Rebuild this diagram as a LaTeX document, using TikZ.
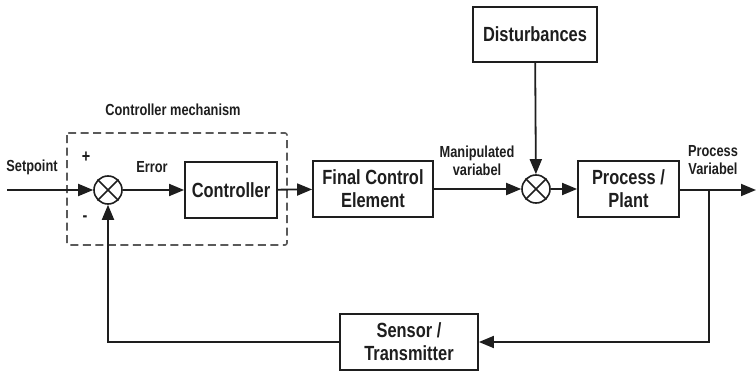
\documentclass[tikz,border=0pt]{standalone}
\usepackage{fontspec}
\setmainfont{Liberation Sans}[FakeStretch=0.8]
\usetikzlibrary{arrows.meta}
\definecolor{ink}{HTML}{1E1E1E}
\definecolor{dashgray}{HTML}{5A5A5A}
\begin{document}
\begin{tikzpicture}[x=1pt,y=-1pt,
  blockbox/.style={draw=ink,line width=1.8pt,minimum width=#1,minimum height=56pt,
    inner sep=0pt,align=center,font=\bfseries\fontsize{20.5}{23}\selectfont,text=ink},
  sumnode/.style={draw=ink,line width=1.6pt,circle,minimum size=28pt,inner sep=0pt},
  lbl/.style={font=\bfseries\fontsize{16}{18}\selectfont,text=ink,align=center,inner sep=0pt},
  conn/.style={draw=ink,line width=1.8pt},
  arr/.style={conn,-{Triangle[length=15pt,width=12pt]}}]
\useasboundingbox (0,0) rectangle (756,372);
% dashed controller mechanism box
\draw[dashgray,line width=1.6pt,dash pattern=on 8pt off 4.5pt,rounded corners=2pt]
  (67,133) rectangle (287,245);
% blocks
\node[sumnode] (s1) at (108,190) {};
\node[blockbox=92pt] (ctrl) at (231,190) {Controller};
\node[blockbox=120pt] (fce) at (373,189) {Final Control\\Element};
\node[sumnode] (s2) at (536,189) {};
\node[blockbox=124pt,minimum height=55pt] (dist) at (535,34.5) {Disturbances};
\node[blockbox=101pt] (plant) at (628.5,189) {Process /\\Plant};
\node[blockbox=138pt] (sens) at (409,342) {Sensor /\\Transmitter};
% crosses in sum nodes
\foreach \s in {s1,s2}{
  \draw[ink,line width=1.6pt] (\s.45) -- (\s.225) (\s.135) -- (\s.315);
}
% coordinates
\coordinate (sp) at (7,190);
\coordinate (out) at (756,190);
\coordinate (br) at (709,190);
\coordinate (brd) at (709,342);
\coordinate (fbl) at (108,342);
% connectors
\draw[arr] (sp) -- (s1);
\draw[arr] (s1) -- (ctrl);
\draw[arr] (ctrl) -- (fce);
\draw[arr] (fce) -- (s2);
\draw[arr] (dist) -- (s2);
\draw[arr] (s2) -- (plant);
\draw[arr] (plant.east |- out) -- (out);
\draw[arr] (br) -- (brd) -- (sens.east);
\draw[arr] (sens.west) -- (fbl) -- (s1);
% labels
\node[lbl] (cm) at (173,110) {Controller mechanism};
\node[lbl] (spl) at (32,167) {Setpoint};
\node[lbl,font=\bfseries\fontsize{18}{18}\selectfont] (plus) at (86,157) {+};
\node[lbl,font=\bfseries\fontsize{18}{18}\selectfont] (minus) at (85,219) {-};
\node[lbl] (err) at (152,167) {Error};
\node[lbl] (mv) at (477,161) {Manipulated\\variabel};
\node[lbl] (pv) at (713,160.5) {Process\\Variabel};
\end{tikzpicture}
\end{document}
